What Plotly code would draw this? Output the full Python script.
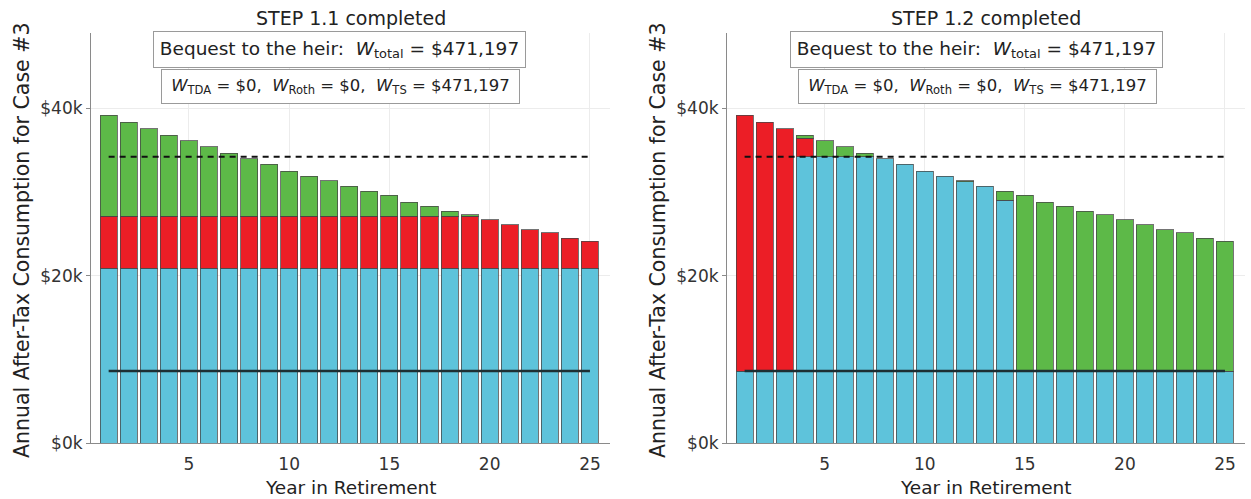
import plotly.graph_objects as go

years = list(range(1, 26))

# ---- Left panel (STEP 1.1) stacked segments, in $k
left_blue = [20.9] * 25
left_red = [6.2] * 19 + [5.8, 5.2, 4.6, 4.2, 3.6, 3.2]
left_green = [12.1, 11.25, 10.45, 9.7, 9.0, 8.3, 7.55, 6.87, 6.2, 5.4, 4.8, 4.25,
              3.6, 2.97, 2.5, 1.7, 1.2, 0.6, 0.2, None, None, None, None, None, None]

# ---- Right panel (STEP 1.2) stacked segments, in $k
right_blue_base = [8.6] * 25
right_blue_top = [None, None, None, 25.6, 25.6, 25.6, 25.6, 25.37, 24.7, 23.9, 23.3,
                  22.6, 22.1, 20.4, None, None, None, None, None, None, None, None,
                  None, None, None]
right_red = [30.6, 29.75, 28.95, 2.2] + [None] * 21
right_green = [None, None, None, 0.4, 1.9, 1.2, 0.45, None, None, None, None, 0.15,
               None, 1.07, 21.0, 20.2, 19.7, 19.1, 18.7, 18.1, 17.5, 16.9, 16.5,
               15.9, 15.5]

dashed_level = [34.2, 34.2]
solid_level = [8.6, 8.6]
line_x = [1, 25]

titles = ["STEP 1.1 completed", "STEP 1.2 completed"]
bequest_text = "Bequest to the heir:  <i>W</i><sub>total</sub> = $471,197"
split_text = ("<i>W</i><sub>TDA</sub> = $0,  <i>W</i><sub>Roth</sub> = $0,  "
              "<i>W</i><sub>TS</sub> = $471,197")
y_title = "Annual After-Tax Consumption for Case #3"
x_title = "Year in Retirement"
y_ticks = [0, 20, 40]
y_tick_text = ["$0k", "$20k", "$40k"]
x_ticks = [5, 10, 15, 20, 25]

BLUE = "#5EC3DB"
RED = "#EC1E26"
GREEN = "#5DB948"
EDGE = "rgba(70,70,70,0.75)"
FONT = "DejaVu Sans"

fig = go.Figure()

def add_bar(y, color, xa, ya):
    fig.add_trace(go.Bar(x=years, y=y, marker=dict(color=color, line=dict(color=EDGE, width=1)),
                         xaxis=xa, yaxis=ya, showlegend=False))

add_bar(left_blue, BLUE, "x", "y")
add_bar(left_red, RED, "x", "y")
add_bar(left_green, GREEN, "x", "y")
add_bar(right_blue_base, BLUE, "x2", "y2")
add_bar(right_blue_top, BLUE, "x2", "y2")
add_bar(right_red, RED, "x2", "y2")
add_bar(right_green, GREEN, "x2", "y2")

for xa, ya in [("x", "y"), ("x2", "y2")]:
    fig.add_trace(go.Scatter(x=line_x, y=dashed_level, mode="lines",
                             line=dict(color="#111", width=2, dash="6px,5px"),
                             xaxis=xa, yaxis=ya, showlegend=False))
    fig.add_trace(go.Scatter(x=line_x, y=solid_level, mode="lines",
                             line=dict(color="#1d2f33", width=2.5),
                             xaxis=xa, yaxis=ya, showlegend=False))

W, H = 1251, 499
ml, mr, mt, mb = 91, 6, 33, 56
pw = W - ml - mr
d1 = [0, (610 - ml) / pw]
d2 = [(727 - ml) / pw, 1]

axis_common = dict(showline=True, linecolor="#8a8a8a", linewidth=1, showgrid=True,
                   gridcolor="#ececec", zeroline=False, automargin=False,
                   tickfont=dict(family=FONT, size=17, color="#333"))
fig.update_layout(
    width=W, height=H, margin=dict(l=ml, r=mr, t=mt, b=mb, autoexpand=False),
    plot_bgcolor="white", paper_bgcolor="white",
    barmode="stack", bargap=0.15,
    font=dict(family=FONT, color="#222"),
    xaxis=dict(domain=d1, range=[0.12, 26.0], tickvals=x_ticks, ticks="",
               ticklabelstandoff=6, **axis_common),
    xaxis2=dict(domain=d2, range=[0.12, 26.0], tickvals=x_ticks, ticks="",
                ticklabelstandoff=6, **axis_common),
    yaxis=dict(range=[0, 49.0], tickvals=y_ticks, ticktext=y_tick_text, ticks="outside",
               ticklen=4, tickcolor="#8a8a8a", anchor="x", **axis_common),
    yaxis2=dict(range=[0, 49.0], tickvals=y_ticks, ticktext=y_tick_text, ticks="outside",
                ticklen=4, tickcolor="#8a8a8a", anchor="x2", **axis_common),
)

def py_to_paper(py):
    return (H - mb - py) / (H - mt - mb)

def px_to_paper(px):
    return (px - ml) / pw

ann = []
for i, (xd, xcenter_px, ytitle_px) in enumerate([("x domain", 339, 22), ("x2 domain", 976, 658)]):
    left_px = 91 if i == 0 else 727
    wpx = 519 if i == 0 else 518
    ann.append(dict(text=titles[i], xref=xd, x=0.5, yref="paper", y=py_to_paper(18),
                    showarrow=False, font=dict(family=FONT, size=19, color="#222"),
                    xanchor="center", yanchor="middle"))
    ann.append(dict(text=bequest_text, xref=xd, x=(xcenter_px - left_px) / wpx, yref="paper",
                    y=py_to_paper(49), showarrow=False, width=369, height=33,
                    bordercolor="#9a9a9a", borderwidth=1, bgcolor="white",
                    font=dict(family=FONT, size=18.5, color="#222"),
                    xanchor="center", yanchor="middle"))
    ann.append(dict(text=split_text, xref=xd, x=(xcenter_px + 1 - left_px) / wpx, yref="paper",
                    y=py_to_paper(86), showarrow=False, width=355, height=31,
                    bordercolor="#9a9a9a", borderwidth=1, bgcolor="white",
                    font=dict(family=FONT, size=16.5, color="#222"),
                    xanchor="center", yanchor="middle"))
    ann.append(dict(text=y_title, xref="paper", x=px_to_paper(ytitle_px), yref="paper",
                    y=py_to_paper(241), showarrow=False, textangle=-90,
                    font=dict(family=FONT, size=20.5, color="#222"),
                    xanchor="center", yanchor="middle"))
    ann.append(dict(text=x_title, xref=xd, x=0.5, yref="paper", y=py_to_paper(487),
                    showarrow=False, font=dict(family=FONT, size=18.5, color="#222"),
                    xanchor="center", yanchor="middle"))

fig.update_layout(annotations=ann)
fig.write_html("out.html", config={"displayModeBar": False},
               post_script="document.body.style.margin='0px';")
